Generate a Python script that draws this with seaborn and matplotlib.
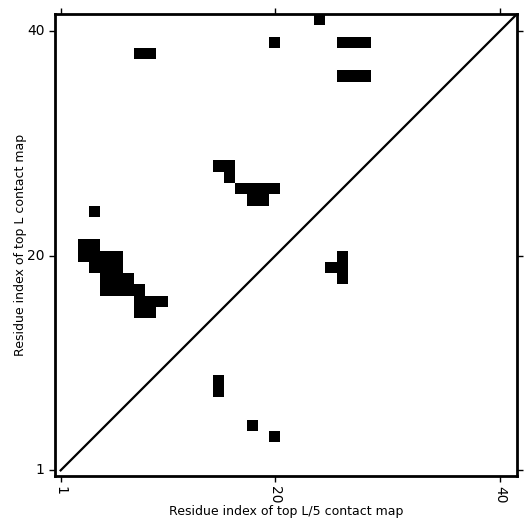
import numpy as np
import matplotlib
matplotlib.use("Agg")
import matplotlib.pyplot as plt
import seaborn as sns
from matplotlib.colors import ListedColormap

# sequence length
n_res = 41

# top L contacts (upper triangle) : residue on x, residue on y
top_l_x = [24,
           20, 26, 27, 28,
           8, 9,
           26, 27, 28,
           15, 16,
           16,
           17, 18, 19, 20,
           18, 19,
           4,
           3, 4,
           3, 4, 5, 6,
           4, 5, 6,
           5, 6, 7,
           5, 6, 7, 8,
           8, 9, 10,
           8, 9]
top_l_y = [41,
           39, 39, 39, 39,
           38, 38,
           36, 36, 36,
           28, 28,
           27,
           26, 26, 26, 26,
           25, 25,
           24,
           21, 21,
           20, 20, 20, 20,
           19, 19, 19,
           18, 18, 18,
           17, 17, 17, 17,
           16, 16, 16,
           15, 15]

# top L/5 contacts (lower triangle)
top_l5_x = [15, 15, 18, 20, 26, 25, 26, 26]
top_l5_y = [8, 9, 5, 4, 20, 19, 19, 18]

tick_labels = [1, 20, 40]

mapa = np.zeros((n_res, n_res))
for x, y in zip(top_l_x + top_l5_x, top_l_y + top_l5_y):
    mapa[y - 1, x - 1] = 1

fig = plt.figure(figsize=(5.31, 5.31), dpi=100)
ax = fig.add_axes([0.1036, 0.1036, 0.870, 0.870])

sns.heatmap(mapa, cmap=ListedColormap(["white", "black"]), cbar=False,
            ax=ax, square=False, linewidths=0)
ax.invert_yaxis()

# diagonal
ax.plot([0.5, n_res], [0.5, n_res], color="black", lw=1.6)

for s in ax.spines.values():
    s.set_visible(True)
    s.set_linewidth(2)
    s.set_color("black")

pos = [t - 0.5 for t in tick_labels]
ax.set_xticks(pos)
ax.set_xticklabels(tick_labels, rotation=-90, fontsize=10)
ax.set_yticks(pos)
ax.set_yticklabels(tick_labels, rotation=0, fontsize=10)
ax.tick_params(top=True, right=True, length=4, width=1)

ax.set_xlabel("Residue index of top L/5 contact map", fontsize=9, labelpad=0.8)
ax.set_ylabel("Residue index of top L contact map", fontsize=9, labelpad=0)

plt.savefig("out.png", dpi=100)
